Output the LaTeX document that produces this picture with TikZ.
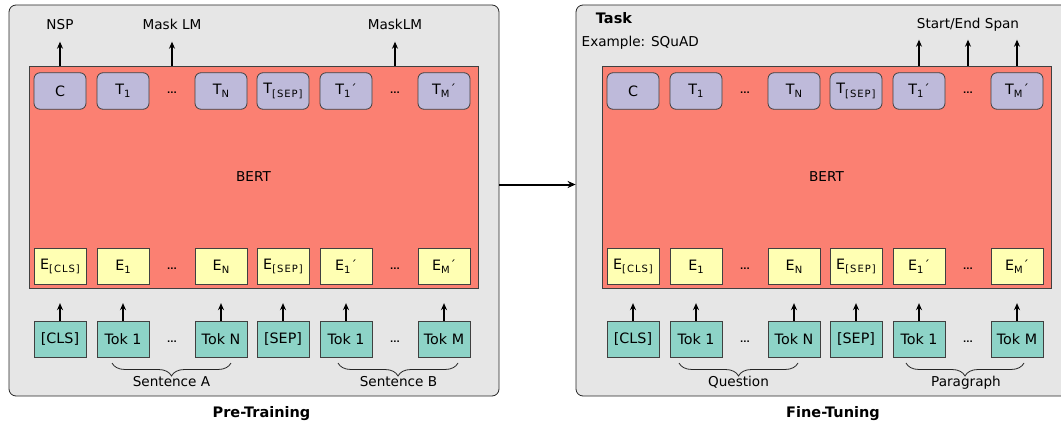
\documentclass[tikz,border=0pt]{standalone}
\usepackage{fontspec}
\setmainfont{DejaVu Sans}
\usetikzlibrary{arrows.meta,decorations.pathreplacing}

\definecolor{panelgray}{HTML}{E6E6E6}
\definecolor{bertred}{HTML}{FB8072}
\definecolor{outlav}{HTML}{BEBADA}
\definecolor{embyel}{HTML}{FFFFB3}
\definecolor{tokteal}{HTML}{8DD3C7}
\definecolor{edgegray}{HTML}{404040}

% subscript, letter-spaced special token, and prime mark
\newcommand\sbs[1]{\raisebox{-0.4ex}{\fontsize{10}{10}\selectfont #1}}
\newcommand\spc[1]{{\addfontfeature{LetterSpace=10}#1}}
\newcommand\prm{\kern0.3pt\raisebox{0.1ex}{\fontsize{12}{12}\selectfont ´}}

\tikzset{
  panel/.style={draw=black!85, fill=panelgray, rounded corners=7pt, line width=0.8pt},
  bertbox/.style={draw=edgegray, fill=bertred, line width=0.8pt, inner sep=0pt},
  cell/.style={draw=edgegray, line width=0.8pt, minimum width=52pt, minimum height=36.5pt,
    inner sep=0pt, font=\fontsize{14.3}{16}\selectfont},
  outcell/.style={cell, fill=outlav, rounded corners=6pt},
  embcell/.style={cell, fill=embyel},
  tokcell/.style={cell, fill=tokteal},
  up/.style={-{Stealth[length=7pt,width=6pt]}, line width=1.9pt},
  ellip/.style={font=\bfseries\fontsize{8.5}{9}\selectfont, anchor=base, inner sep=0pt},
  toplabel/.style={anchor=base, inner sep=0pt, text depth=3pt},
  brc/.style={decorate, decoration={brace, mirror, amplitude=13pt}, line width=0.8pt, draw=black!85},
  bracelabel/.style={anchor=base, inner sep=0pt},
  title/.style={anchor=base, inner sep=0pt, font=\bfseries\fontsize{14.5}{17}\selectfont},
}

\begin{document}
\begin{tikzpicture}[x=1pt, y=-1pt, font=\fontsize{13.6}{16}\selectfont]
\useasboundingbox (0,0) rectangle (1061,428);
\clip (0,0) rectangle (1061,428);

% the two stages
\node[panel, minimum width=490pt, minimum height=391pt] (pre) at (254,200.5) {};
\node[panel, minimum width=492pt, minimum height=391pt] (fine) at (822,200.5) {};

\foreach \p/\dx in {p/0, f/573}{
  \begin{scope}[shift={(\dx,0)}]
    \node[bertbox, minimum width=449pt, minimum height=222pt] (\p-bert) at (253.5,177) {BERT};
    \foreach \n/\x/\t/\e/\k in {
        cls/60/C/E\sbs{\spc{[CLS]}}/[CLS],
        a1/123/T\sbs{1}/E\sbs{1}/Tok 1,
        an/221/T\sbs{N}/E\sbs{N}/Tok N,
        sep/283/T\sbs{\spc{[SEP]}}/E\sbs{\spc{[SEP]}}/[SEP],
        b1/346/T\sbs{1}\prm/E\sbs{1}\prm/Tok 1,
        bm/444/T\sbs{M}\prm/E\sbs{M}\prm/Tok M}{
      \node[outcell] (\p-t\n) at (\x,91) {\t};
      \node[embcell] (\p-e\n) at (\x,266.5) {\e};
      \node[tokcell] (\p-k\n) at (\x,339.5) {\k};
      \draw[up, shorten >=18pt] (\p-k\n.north) -- (\p-e\n.south);
    }
    \foreach \n/\x in {a/172, b/395}{
      \node[ellip] (\p-dt\n) at (\x,93.5) {...};
      \node[ellip] (\p-de\n) at (\x,269) {...};
      \node[ellip] (\p-dk\n) at (\x,342) {...};
    }
  \end{scope}
}

% pre-training heads
\node[toplabel] (nsp) at (60,29.5) {NSP};
\node[toplabel] (mlma) at (172,29.5) {Mask LM};
\node[toplabel] (mlmb) at (395,29.5) {MaskLM};
\draw[up, shorten >=9pt] (p-tcls.north |- p-bert.north) -- (nsp.south);
\draw[up, shorten >=9pt] (mlma.south |- p-bert.north) -- (mlma.south);
\draw[up, shorten >=9pt] (mlmb.south |- p-bert.north) -- (mlmb.south);

% fine-tuning head
\node[font=\bfseries\fontsize{14.5}{17}\selectfont, inner sep=0pt] (task) at (614,18) {Task};
\node[anchor=west, inner sep=0pt] (example) at (581.5,43) {Example: SQuAD};
\node[toplabel] (span) at (968,28.5) {Start/End Span};
\draw[up, shorten >=8pt] (f-tb1.north |- f-bert.north) -- (f-tb1.north |- span.south);
\draw[up, shorten >=8pt] (span.south |- f-bert.north) -- (span.south);
\draw[up, shorten >=8pt] (f-tbm.north |- f-bert.north) -- (f-tbm.north |- span.south);

% segment braces
\draw[brc] (112,363) -- (231,363);
\draw[brc] (338,363) -- (458,363);
\draw[brc] (679,363) -- (798,363);
\draw[brc] (906,363) -- (1024,363);
\node[bracelabel] (senta) at (171.5,386.5) {Sentence A};
\node[bracelabel] (sentb) at (398.5,386.5) {Sentence B};
\node[bracelabel] (quest) at (738.5,386.5) {Question};
\node[bracelabel] (para) at (966,386.5) {Paragraph};

% stage transfer
\draw[-{Stealth[length=8pt,width=7pt]}, line width=2pt] ([yshift=16pt]pre.east) -- ([yshift=16pt]fine.west);

% captions
\node[title] (pretitle) at (261.5,417.5) {Pre-Training};
\node[title] (finetitle) at (833,417.5) {Fine-Tuning};
\end{tikzpicture}
\end{document}
